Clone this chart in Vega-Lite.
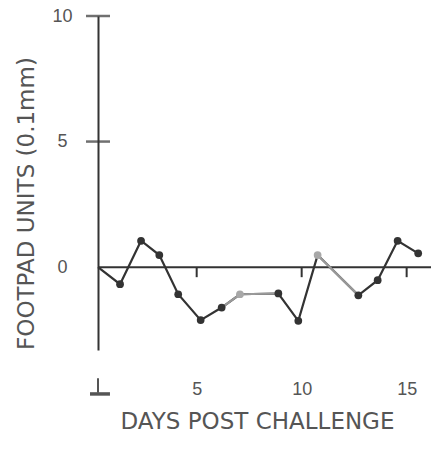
{
  "$schema": "https://vega.github.io/schema/vega-lite/v6.json",
  "width": 333,
  "height": 334,
  "autosize": {"type": "none"},
  "padding": {"left": 98, "top": 16, "right": 0, "bottom": 111},
  "background": "white",
  "config": {"view": {"stroke": null}},
  "datasets": {
    "series": [
      {"day": 0.3, "value": 0, "dot": false, "tone": "dark", "run": null},
      {"day": 1.35, "value": -0.68, "dot": true, "tone": "dark", "run": null},
      {"day": 2.35, "value": 1.05, "dot": true, "tone": "dark", "run": null},
      {"day": 3.22, "value": 0.48, "dot": true, "tone": "dark", "run": null},
      {"day": 4.12, "value": -1.08, "dot": true, "tone": "dark", "run": null},
      {"day": 5.19, "value": -2.11, "dot": true, "tone": "dark", "run": null},
      {"day": 6.19, "value": -1.61, "dot": true, "tone": "dark", "run": 1},
      {"day": 7.06, "value": -1.08, "dot": true, "tone": "light", "run": 1},
      {"day": 8.89, "value": -1.05, "dot": true, "tone": "dark", "run": 1},
      {"day": 9.84, "value": -2.14, "dot": true, "tone": "dark", "run": null},
      {"day": 10.76, "value": 0.48, "dot": true, "tone": "light", "run": 2},
      {"day": 12.7, "value": -1.12, "dot": true, "tone": "dark", "run": 2},
      {"day": 13.62, "value": -0.52, "dot": true, "tone": "dark", "run": null},
      {"day": 14.57, "value": 1.05, "dot": true, "tone": "dark", "run": null},
      {"day": 15.55, "value": 0.55, "dot": true, "tone": "dark", "run": null}
    ],
    "zero": [{"value": 0}],
    "xticks": [{"day": 5}, {"day": 10}, {"day": 15}],
    "yticks": [{"value": 5}, {"value": 10}],
    "stem": [{"x": 0.3, "y": -4.42, "y2": -5.0}],
    "base": [{"x": -0.08, "x2": 0.87, "y": -5.05}]
  },
  "layer": [
    {
      "data": {"name": "zero"},
      "mark": {"type": "rule", "color": "#333", "strokeWidth": 2},
      "encoding": {
        "y": {
          "field": "value", "type": "quantitative",
          "scale": {"domain": [-3.3, 10], "nice": false, "zero": false},
          "axis": {
            "title": "FOOTPAD UNITS (0.1mm)",
            "values": [0, 5, 10],
            "grid": false,
            "ticks": false,
            "domain": true,
            "domainColor": "#333",
            "domainWidth": 2,
            "labelFont": "Liberation Sans",
            "labelFontSize": 18,
            "labelColor": "#555",
            "labelAlign": "center",
            "labelPadding": 36,
            "titleFont": "DejaVu Sans",
            "titleFontSize": 23,
            "titleFontWeight": "normal",
            "titleColor": "#555",
            "titleX": -72,
            "titleY": 187,
            "titleAngle": -90,
            "titleBaseline": "middle",
            "titleAlign": "center"
          }
        }
      }
    },
    {
      "data": {"name": "xticks"},
      "mark": {"type": "rule", "color": "#333", "strokeWidth": 2},
      "encoding": {
        "x": {
          "field": "day", "type": "quantitative",
          "scale": {"domain": [0.3, 16.16], "nice": false, "zero": false},
          "axis": {
            "title": "DAYS POST CHALLENGE",
            "values": [5, 10, 15],
            "grid": false,
            "ticks": false,
            "domain": false,
            "labelFont": "Liberation Sans",
            "labelFontSize": 18,
            "labelColor": "#555",
            "labelBaseline": "top",
            "labelPadding": 30,
            "titleFont": "DejaVu Sans",
            "titleFontSize": 23,
            "titleFontWeight": "normal",
            "titleColor": "#555",
            "titleX": 159,
            "titleY": 71,
            "titleBaseline": "middle",
            "titleAlign": "center"
          }
        },
        "y": {"datum": 0},
        "y2": {"datum": -0.4}
      }
    },
    {
      "data": {"name": "yticks"},
      "mark": {"type": "tick", "orient": "horizontal", "color": "#333", "size": 24, "thickness": 2.5},
      "encoding": {
        "x": {"datum": 0.3},
        "y": {"field": "value", "type": "quantitative"}
      }
    },
    {
      "data": {"name": "series"},
      "mark": {"type": "line", "color": "#333333", "strokeWidth": 2.2},
      "encoding": {
        "x": {"field": "day", "type": "quantitative"},
        "y": {"field": "value", "type": "quantitative"}
      }
    },
    {
      "data": {"name": "series"},
      "transform": [{"filter": "isValid(datum.run)"}],
      "mark": {"type": "line", "color": "#9a9a9a", "strokeWidth": 2.2},
      "encoding": {
        "x": {"field": "day", "type": "quantitative"},
        "y": {"field": "value", "type": "quantitative"},
        "detail": {"field": "run", "type": "nominal"}
      }
    },
    {
      "data": {"name": "series"},
      "transform": [{"filter": "datum.dot"}],
      "mark": {"type": "point", "filled": true, "size": 60, "opacity": 1},
      "encoding": {
        "x": {"field": "day", "type": "quantitative"},
        "y": {"field": "value", "type": "quantitative"},
        "color": {
          "field": "tone", "type": "nominal",
          "scale": {"domain": ["dark", "light"], "range": ["#333333", "#a8a8a8"]},
          "legend": null
        }
      }
    },
    {
      "data": {"name": "stem"},
      "mark": {"type": "rule", "color": "#555", "strokeWidth": 2},
      "encoding": {
        "x": {"field": "x", "type": "quantitative"},
        "y": {"field": "y", "type": "quantitative"},
        "y2": {"field": "y2"}
      }
    },
    {
      "data": {"name": "base"},
      "mark": {"type": "rule", "color": "#555", "strokeWidth": 3.5},
      "encoding": {
        "x": {"field": "x", "type": "quantitative"},
        "x2": {"field": "x2"},
        "y": {"field": "y", "type": "quantitative"}
      }
    }
  ]
}
